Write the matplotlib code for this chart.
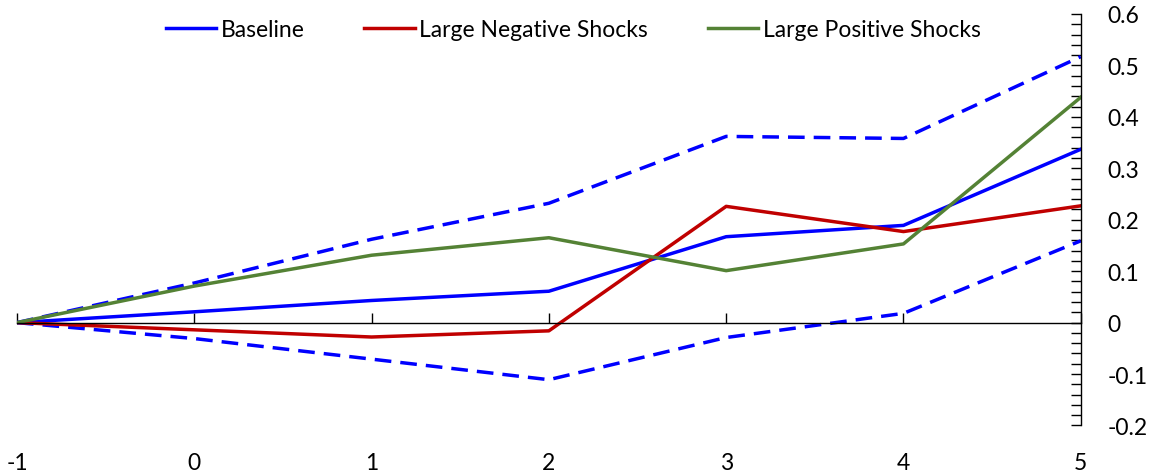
import matplotlib
matplotlib.use('Agg')
import matplotlib.pyplot as plt
from matplotlib.ticker import MultipleLocator

plt.rcParams['font.family'] = ['Lato', 'DejaVu Sans']
plt.rcParams['axes.unicode_minus'] = False

# horizon (years after shock)
horizon = [-1, 0, 1, 2, 3, 4, 5]

# impulse responses
baseline = [0.0, 0.021, 0.043, 0.061, 0.167, 0.189, 0.337]
baseline_upper = [0.0, 0.077, 0.162, 0.232, 0.362, 0.358, 0.517]
baseline_lower = [0.0, -0.031, -0.071, -0.111, -0.029, 0.018, 0.159]
large_negative = [0.0, -0.014, -0.028, -0.016, 0.226, 0.177, 0.227]
large_positive = [0.0, 0.071, 0.131, 0.165, 0.101, 0.153, 0.438]

BLUE = '#0000FF'
RED = '#C00000'
GREEN = '#548235'
LW = 2.5

fig = plt.figure(figsize=(11.62, 4.77), dpi=100)
ax = fig.add_axes([0.0146, 0.1059, 0.9155, 0.8627])

ax.plot(horizon, baseline_upper, color=BLUE, lw=LW, dashes=(4.8, 2.6))
ax.plot(horizon, baseline_lower, color=BLUE, lw=LW, dashes=(4.8, 2.6))
ax.plot(horizon, baseline, color=BLUE, lw=LW, label='Baseline')
ax.plot(horizon, large_negative, color=RED, lw=LW, label='Large Negative Shocks')
ax.plot(horizon, large_positive, color=GREEN, lw=LW, label='Large Positive Shocks')

ax.set_xlim(-1, 5)
ax.set_ylim(-0.2, 0.6)

# y axis on the right
for side in ['top', 'left']:
    ax.spines[side].set_visible(False)
ax.spines['right'].set_linewidth(1.0)
ax.yaxis.tick_right()
ax.yaxis.set_major_locator(MultipleLocator(0.1))
ax.yaxis.set_minor_locator(MultipleLocator(0.02))
ax.set_yticks([-0.2, -0.1, 0, 0.1, 0.2, 0.3, 0.4, 0.5, 0.6])
ax.set_yticklabels(['-0.2', '-0.1', '0', '0.1', '0.2', '0.3', '0.4', '0.5', '0.6'])
ax.tick_params(axis='y', which='both', direction='in', length=7, width=1,
               labelsize=16.5, pad=19)
for lab in ax.get_yticklabels():
    lab.set_horizontalalignment('left')

# x axis line at zero, ticks pointing up, labels at the bottom
ax.spines['bottom'].set_position(('data', 0))
ax.spines['bottom'].set_linewidth(1.0)
ax.set_xticks(horizon)
ax.tick_params(axis='x', direction='in', length=7, width=1, labelbottom=False)

sec = ax.secondary_xaxis('bottom')
sec.set_xticks(horizon)
sec.set_xticklabels([str(h) for h in horizon])
sec.spines['bottom'].set_visible(False)
sec.tick_params(axis='x', length=0, labelsize=16.5, pad=19)

ax.legend(loc='upper center', bbox_to_anchor=(0.523, 1.037), ncol=3, frameon=False,
          fontsize=16.5, handlelength=2.2, handletextpad=0.2, columnspacing=2.6)

fig.savefig('out.png', dpi=100)
